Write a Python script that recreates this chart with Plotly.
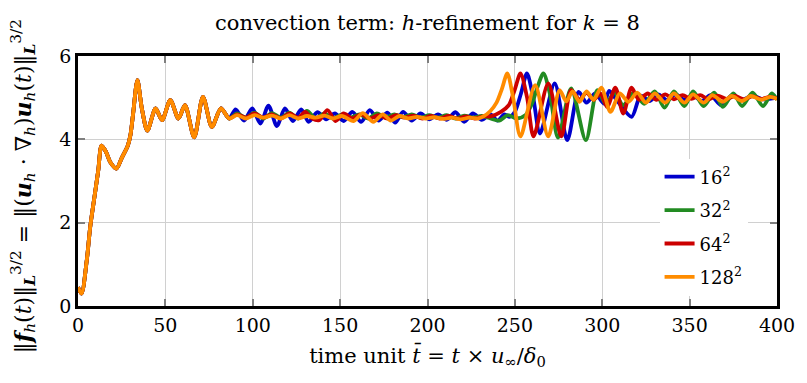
import plotly.graph_objects as go

# Shared start-up transient (all resolutions coincide here)
t_start = [0, 2, 5, 7, 9.7, 11.6, 13.5, 16, 18.5, 22, 25, 28.5, 30, 31.5, 34, 36.5,
           39.7, 44.4, 48.1, 52.8, 57.5, 61.2, 66.5, 71.5, 76.6, 81.8, 86.5]
v_start = [0.45, 0.3, 1.09, 1.9, 2.7, 3.26, 3.85, 3.7, 3.45, 3.3, 3.55, 3.85, 4.1, 4.6, 5.42, 4.75,
           4.21, 4.74, 4.46, 4.94, 4.5, 4.82, 4.05, 5.02, 4.3, 4.74, 4.5]

# 16^2 mesh
t_16 = [90.2, 95, 99.7, 104.4, 109, 113.8, 118.4, 123, 127.7, 132, 137, 142, 147, 152, 157, 162,
        167, 172, 177, 181.5, 186, 191, 196, 201, 206, 211, 216, 221, 226, 231, 236, 240, 244,
        247, 250, 253.5, 256.9, 260.5, 264.4, 272.8, 280, 286.5, 291, 296, 301, 304, 309, 316.8,
        322, 327, 332, 337, 342, 347, 352, 357, 362, 368, 374, 380, 386, 392, 400]
v_16 = [4.72, 4.45, 4.74, 4.38, 4.81, 4.32, 4.74, 4.44, 4.72, 4.42, 4.65, 4.48, 4.62, 4.44, 4.66, 4.42,
        4.7, 4.45, 4.64, 4.40, 4.66, 4.45, 4.62, 4.48, 4.60, 4.47, 4.65, 4.42, 4.62, 4.47, 4.6, 4.45, 4.6,
        4.54, 4.66, 5.1, 5.58, 5.0, 4.14, 5.34, 3.98, 5.14, 4.88, 5.1, 4.86, 5.16, 4.9, 4.54,
        5.05, 4.92, 5.08, 4.94, 5.08, 4.95, 5.05, 4.92, 5.06, 4.82, 5.05, 4.95, 5.05, 4.96, 5.0]

# 32^2 mesh
t_32 = [91, 96, 101, 106, 111, 116, 121, 126, 131, 136, 141, 146, 151, 156, 161, 166, 171, 176,
        181, 186, 191, 196, 201, 206, 211, 216, 221, 226, 231, 236, 241, 246, 251, 256, 259.7,
        262.5, 266.3, 270, 274.7, 282.2, 290.6, 297.2, 302, 307, 312, 318, 324, 330, 335.6, 341,
        347, 352, 358, 364, 369, 375, 380, 386, 392, 397, 400]
v_32 = [4.62, 4.52, 4.64, 4.5, 4.63, 4.52, 4.64, 4.5, 4.68, 4.5, 4.62, 4.5, 4.6, 4.52, 4.6, 4.5, 4.62, 4.52,
        4.6, 4.53, 4.6, 4.52, 4.58, 4.52, 4.58, 4.5, 4.57, 4.52, 4.56, 4.5, 4.45, 4.58, 4.5, 4.58, 4.85,
        5.2, 5.58, 5.1, 4.04, 5.22, 3.98, 5.18, 4.85, 5.12, 4.82, 5.12, 4.85, 5.15, 4.76, 5.15,
        4.8, 5.15, 4.8, 5.12, 4.78, 5.1, 4.8, 5.12, 4.8, 5.1, 4.95]

# 64^2 mesh
t_64 = [91, 96, 101, 106, 111, 116, 121, 126, 130, 134, 138, 142.7, 147.4, 152, 157, 162, 167, 172,
        177, 182, 187, 192, 197, 202, 207, 212, 217, 222, 227, 232, 236, 242, 246.5, 250, 253.2,
        257, 260.7, 269.1, 276.6, 282.2, 287, 291, 295, 299, 302.8, 307.5, 312, 316.8, 321, 326,
        331, 336, 341, 346, 351, 356, 361, 366, 371, 376, 381, 386, 391, 396, 400]
v_64 = [4.6, 4.52, 4.62, 4.52, 4.6, 4.5, 4.62, 4.52, 4.66, 4.5, 4.46, 4.7, 4.44, 4.62, 4.5, 4.6, 4.5, 4.58,
        4.5, 4.58, 4.52, 4.57, 4.5, 4.56, 4.5, 4.56, 4.5, 4.55, 4.5, 4.55, 4.55, 4.66, 4.82, 5.2, 5.58,
        5.0, 4.07, 5.34, 4.07, 5.18, 4.95, 5.12, 4.95, 5.1, 4.78, 5.24, 4.62, 5.24, 4.95, 5.1,
        4.95, 5.08, 4.96, 5.06, 4.97, 5.06, 4.96, 5.05, 4.97, 5.04, 4.96, 5.03, 4.97, 5.02, 4.98]

# 128^2 mesh
t_128 = [91, 96, 101, 106, 111, 116, 121, 126, 131, 136, 141, 146, 151, 157.7, 163, 169, 174.5, 179,
         184, 189, 194, 199, 204, 209, 214, 219, 224, 229, 232, 236, 239.5, 242.5, 245.7, 249,
         253.2, 261.6, 269.1, 275.6, 279.4, 283, 287, 291, 295, 299.5, 304.7, 310, 315, 320, 325,
         330, 336, 341, 347, 352, 358, 363, 369, 374, 380, 385, 391, 396, 400]
v_128 = [4.58, 4.5, 4.58, 4.52, 4.57, 4.5, 4.58, 4.5, 4.56, 4.52, 4.57, 4.5, 4.56, 4.44, 4.63, 4.42, 4.6, 4.45,
         4.56, 4.5, 4.54, 4.5, 4.53, 4.49, 4.52, 4.48, 4.52, 4.5, 4.55, 4.68, 4.88, 5.2, 5.58, 5.0,
         4.07, 5.30, 4.07, 5.18, 4.91, 5.15, 4.9, 5.15, 4.95, 5.24, 4.66, 5.1, 4.9, 5.12, 4.88,
         5.1, 4.88, 5.1, 4.88, 5.08, 4.88, 5.06, 4.9, 5.04, 4.92, 5.04, 4.95, 5.02, 4.97]

names = ["16<sup>2</sup>", "32<sup>2</sup>", "64<sup>2</sup>", "128<sup>2</sup>"]
colors = ["#0000cc", "#228b22", "#cc0000", "#ff8c00"]
tails = [(t_16, v_16), (t_32, v_32), (t_64, v_64), (t_128, v_128)]

x_ticks = [0, 50, 100, 150, 200, 250, 300, 350, 400]
y_ticks = [0, 2, 4, 6]

FONT = "DejaVu Serif"

fig = go.Figure()
for name, color, (tt, vv) in zip(names, colors, tails):
    fig.add_trace(go.Scatter(
        x=t_start + tt, y=v_start + vv, mode="lines", name=name, legendgroup=name,
        line=dict(color=color, width=3.8, shape="spline", smoothing=0.8),
    ))

axis_common = dict(
    showline=True, linecolor="black", linewidth=2.5, mirror="ticks",
    ticks="inside", tickcolor="#7f7f7f", ticklen=7, tickwidth=1.5,
    showgrid=True, gridcolor="#d0d0d0", gridwidth=1, zeroline=False,
    tickfont=dict(family=FONT, size=19, color="black"),
)

fig.update_layout(
    width=807, height=383,
    margin=dict(l=78, r=19, t=56, b=77),
    paper_bgcolor="white", plot_bgcolor="white",
    font=dict(family=FONT, color="black"),
    title=dict(text="convection term: <i>h</i>-refinement for <i>k</i> = 8",
               x=0.5, xref="paper", y=1 - 23 / 383, yref="container",
               xanchor="center", yanchor="middle",
               font=dict(family=FONT, size=21, color="black")),
    xaxis=dict(range=[0, 400], tickvals=x_ticks, **axis_common,
               title=dict(text="time unit <i>t̄</i> = <i>t</i> × <i>u</i><sub>∞</sub>/<i>δ</i><sub>0</sub>",
                          font=dict(family=FONT, size=21), standoff=14)),
    yaxis=dict(range=[0, 6], tickvals=y_ticks, **axis_common),
    legend=dict(x=0.832, y=0.59, xanchor="left", yanchor="top",
                bgcolor="white", borderwidth=0, tracegroupgap=7,
                font=dict(family=FONT, size=18, color="black")),
    showlegend=True,
)

fig.add_annotation(
    text="‖<b><i>f</i></b><sub><i>h</i></sub>(<i>t</i>)‖<sub><b><i>L</i></b></sub><sup>3/2</sup> = "
         "‖(<b><i>u</i></b><sub><i>h</i></sub> · ∇<sub><i>h</i></sub>)<b><i>u</i></b><sub><i>h</i></sub>(<i>t</i>)‖"
         "<sub><b><i>L</i></b></sub><sup>3/2</sup>",
    textangle=-90, xref="paper", yref="paper", x=-0.079, y=0.478,
    xanchor="center", yanchor="middle", showarrow=False,
    font=dict(family=FONT, size=22, color="black"),
)

fig.write_html("out.html")
